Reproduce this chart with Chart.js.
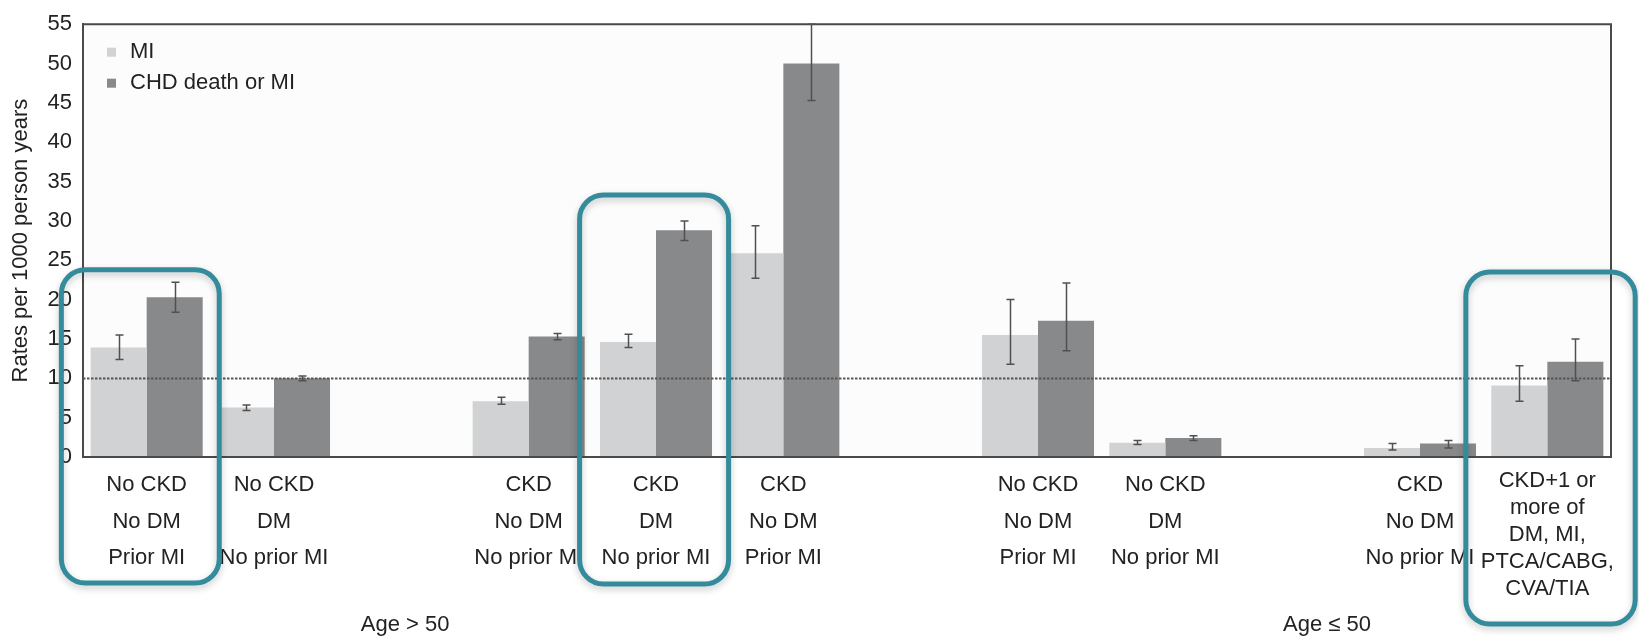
<!DOCTYPE html>
<html>
<head>
<meta charset="utf-8">
<title>Rates per 1000 person years</title>
<script src="https://cdn.jsdelivr.net/npm/chart.js@4.4.0/dist/chart.umd.min.js"></script>
<style>
  html, body { margin: 0; padding: 0; background: #ffffff; }
  #wrap { width: 1639px; height: 636px; position: relative; }
</style>
</head>
<body>
<div id="wrap"><canvas id="rateChart"></canvas></div>
<script>
// categories (empty strings are the gaps between groups)
const categories = [
  ['No CKD', 'No DM', 'Prior MI'],
  ['No CKD', 'DM', 'No prior MI'],
  '',
  ['CKD', 'No DM', 'No prior MI'],
  ['CKD', 'DM', 'No prior MI'],
  ['CKD', 'No DM', 'Prior MI'],
  '',
  ['No CKD', 'No DM', 'Prior MI'],
  ['No CKD', 'DM', 'No prior MI'],
  '',
  ['CKD', 'No DM', 'No prior MI'],
  ['CKD+1 or', 'more of', 'DM, MI,', 'PTCA/CABG,', 'CVA/TIA']
];

const seriesNames = ['MI', 'CHD death or MI'];

const miRates = [13.9, 6.3, null, 7.1, 14.6, 25.9, null, 15.5, 1.8, null, 1.15, 9.1];
const miLow   = [12.4, 5.9, null, 6.7, 13.9, 22.7, null, 11.8, 1.6, null, 0.9, 7.1];
const miHigh  = [15.5, 6.6, null, 7.6, 15.6, 29.4, null, 20.0, 2.1, null, 1.7, 11.6];

const chdRates = [20.3, 10.0, null, 15.3, 28.8, 50.0, null, 17.3, 2.4, null, 1.7, 12.1];
const chdLow   = [18.4, 9.7, null, 14.9, 27.5, 45.3, null, 13.5, 2.1, null, 1.15, 9.7];
const chdHigh  = [22.2, 10.3, null, 15.7, 30.0, 55.0, null, 22.1, 2.7, null, 2.1, 15.0];

const yTicks = [0, 5, 10, 15, 20, 25, 30, 35, 40, 45, 50, 55];
const refValue = 10;

const ageGroups = ['Age > 50', 'Age \u2264 50'];

// highlighted categories (teal boxes)
const highlighted = [0, 4, 11];

const FONT = '"Liberation Sans", Arial, Helvetica, sans-serif';
const TEXT = '#222222';
const LIGHT = '#d1d2d4';
const DARK = '#88898b';

/* background of plot area + frame */
const plotFrame = {
  id: 'plotFrame',
  beforeDatasetsDraw(chart) {
    const { ctx, chartArea: a } = chart;
    ctx.save();
    ctx.fillStyle = '#fcfcfc';
    ctx.fillRect(a.left, a.top, a.right - a.left, a.bottom - a.top);
    ctx.restore();
  },
  afterDatasetsDraw(chart) {
    const { ctx, chartArea: a } = chart;
    ctx.save();
    ctx.strokeStyle = '#4a4a4a';
    ctx.lineWidth = 2;
    ctx.beginPath();
    ctx.moveTo(a.left, a.top);
    ctx.lineTo(a.right, a.top);
    ctx.lineTo(a.right, a.bottom);
    ctx.lineTo(a.left, a.bottom);
    ctx.closePath();
    ctx.stroke();
    ctx.restore();
  }
};

/* dotted reference line + error bars */
const errorBars = {
  id: 'errorBars',
  afterDatasetsDraw(chart) {
    const { ctx, chartArea: a } = chart;
    const y = chart.scales.y;
    ctx.save();
    // reference line
    ctx.strokeStyle = '#555555';
    ctx.lineWidth = 2;
    ctx.setLineDash([2.5, 1.5]);
    ctx.beginPath();
    const ry = Math.round(y.getPixelForValue(refValue)) + 0.5;
    ctx.moveTo(a.left, ry);
    ctx.lineTo(a.right, ry);
    ctx.stroke();
    ctx.setLineDash([]);

    const lows = [miLow, chdLow];
    const highs = [miHigh, chdHigh];
    ctx.strokeStyle = '#505050';
    ctx.lineWidth = 1.5;
    chart.data.datasets.forEach((ds, di) => {
      const meta = chart.getDatasetMeta(di);
      meta.data.forEach((bar, i) => {
        if (lows[di][i] == null) return;
        const x = Math.round(bar.x) + 0.5;
        const y1 = y.getPixelForValue(lows[di][i]);
        const y2 = y.getPixelForValue(highs[di][i]);
        ctx.beginPath();
        ctx.moveTo(x, y1); ctx.lineTo(x, y2);
        ctx.moveTo(x - 4, y1); ctx.lineTo(x + 4, y1);
        ctx.moveTo(x - 4, y2); ctx.lineTo(x + 4, y2);
        ctx.stroke();
      });
    });
    ctx.restore();
  }
};

/* legend, group labels, highlight boxes */
const extras = {
  id: 'extras',
  afterDraw(chart, args, opts) {
    const { ctx, chartArea: a } = chart;
    const x = chart.scales.x;
    const y = chart.scales.y;
    ctx.save();

    // legend
    ctx.font = '22px ' + FONT;
    ctx.textBaseline = 'middle';
    ctx.textAlign = 'left';
    chart.data.datasets.forEach((ds, i) => {
      const cy = a.top + 28 + i * 31;
      ctx.fillStyle = ds.backgroundColor;
      ctx.fillRect(a.left + 24, cy - 4.5, 9, 9);
      ctx.fillStyle = TEXT;
      ctx.fillText(ds.label, a.left + 47, cy);
    });

    // age group labels
    ctx.textAlign = 'center';
    ageGroups.forEach((g, i) => {
      ctx.fillText(g, x.getPixelForValue(opts.groupAt[i]), 625);
    });

    // teal rounded boxes
    const step = x.getPixelForValue(1) - x.getPixelForValue(0);
    ctx.strokeStyle = '#348b9b';
    ctx.lineWidth = 5;
    ctx.shadowColor = 'rgba(0,0,0,0.22)';
    ctx.shadowBlur = 7;
    ctx.shadowOffsetY = 3;
    highlighted.forEach((idx, i) => {
      const b = opts.boxes[i];
      const cx = x.getPixelForValue(idx);
      const left = cx + b.from * step;
      const right = cx + b.to * step;
      const top = y.getPixelForValue(b.top);
      ctx.beginPath();
      ctx.roundRect(left, top, right - left, b.bottom - top, 24);
      ctx.stroke();
    });
    ctx.restore();
  }
};

new Chart(document.getElementById('rateChart'), {
  type: 'bar',
  data: {
    labels: categories,
    datasets: [
      { label: seriesNames[0], data: miRates, backgroundColor: LIGHT, borderWidth: 0 },
      { label: seriesNames[1], data: chdRates, backgroundColor: DARK, borderWidth: 0 }
    ]
  },
  options: {
    responsive: true,
    maintainAspectRatio: false,
    animation: false,
    categoryPercentage: 0.88,
    barPercentage: 1.0,
    layout: { padding: { top: 20, right: 28, left: 0, bottom: 0 } },
    plugins: {
      legend: { display: false },
      tooltip: { enabled: false },
      extras: {
        groupAt: [2.03, 9.27],
        boxes: [
          { from: -0.67, to: 0.57, top: 23.8, bottom: 583 },
          { from: -0.60, to: 0.57, top: 33.3, bottom: 584 },
          { from: -0.64, to: 0.69, top: 23.5, bottom: 624 }
        ]
      }
    },
    scales: {
      x: {
        grid: { display: false, drawTicks: false },
        border: { display: true, color: '#4a4a4a', width: 2 },
        afterFit: (s) => { s.height = 179; },
        ticks: {
          autoSkip: false,
          maxRotation: 0,
          minRotation: 0,
          padding: 10,
          color: TEXT,
          font: (c) => ({
            family: FONT,
            size: 22,
            lineHeight: (c.index === categories.length - 1) ? 1.23 : 1.66
          })
        }
      },
      y: {
        min: 0,
        max: 55,
        afterFit: (s) => { s.width = 83; },
        afterBuildTicks: (s) => { s.ticks = yTicks.map(v => ({ value: v })); },
        grid: { display: false, drawTicks: false },
        border: { display: true, color: '#4a4a4a', width: 2 },
        ticks: { padding: 11, color: TEXT, font: { family: FONT, size: 22 } },
        title: {
          display: true,
          text: 'Rates per 1000 person years',
          color: TEXT,
          font: { family: FONT, size: 22 },
          padding: { top: 8, bottom: 0 }
        }
      }
    }
  },
  plugins: [plotFrame, errorBars, extras]
});
</script>
</body>
</html>
